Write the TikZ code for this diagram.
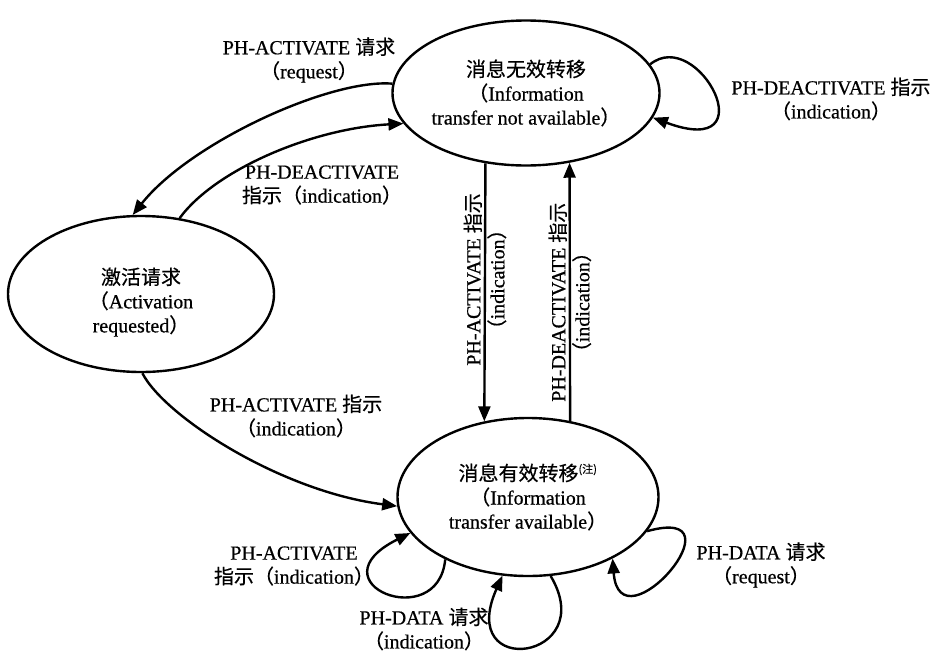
\documentclass[tikz,border=0pt]{standalone}
\usepackage{fontspec}
\setmainfont{Liberation Serif}[FakeBold=0.6]
\newfontfamily\cjk{Noto Sans CJK SC}[FakeBold=0.4]
\usetikzlibrary{arrows.meta}
\usetikzlibrary{shapes.geometric}
\newcommand{\zh}[1]{{\cjk #1}}
\newcommand{\lp}{\zh{（}}
\newcommand{\rp}{\zh{）}}
\newcommand{\paren}[1]{\lp#1\rp}
\newcommand{\noteMark}{\textsuperscript{\fontsize{11}{11}\selectfont\zh{(注)}}}

\begin{document}
\begin{tikzpicture}[%%
  x=1pt,y=1pt,%%
  every node/.style={font=\fontsize{20}{24}\selectfont},%%
  stateStyle/.style={draw,ellipse,line width=2.4pt,align=center,inner sep=0pt},%%
  arrowStyle/.style={line width=2.4pt,-{Triangle[length=15pt,width=12pt]}},%%
  labelStyle/.style={align=center,inner sep=1pt}
]
\useasboundingbox (0,0) rectangle (934,-654);
%%
%% The three states.
\node[stateStyle,minimum width=256pt,minimum height=145pt] (unavail) at (526,-93)
  {\zh{消息无效转移}\\\lp Information\\transfer not available\rp};
\node[stateStyle,minimum width=266pt,minimum height=156pt] (actreq) at (141,-294)
  {\rule{0pt}{33pt}\zh{激活请求}\\\lp Activation\\requested\rp};
\node[stateStyle,minimum width=261pt,minimum height=158pt] (avail) at (528,-497)
  {\zh{消息有效转移}\noteMark\\\lp Information\\transfer available\rp};
%%
%% Transitions between the states.
\draw[arrowStyle] (unavail.176) .. controls +(-63,5) and +(57,72) .. (actreq.96);
\draw[arrowStyle] (actreq.63) .. controls +(35,48) and +(-92,-5) .. (unavail.194);
\draw[arrowStyle] (actreq.271) .. controls +(22,-43) and +(-117,15) .. (avail.184);
\draw[arrowStyle] (unavail.240) -- node[pos=0.45,rotate=90,labelStyle] (actInd)
  {PH-ACTIVATE \zh{指示}\\\paren{indication}} (avail.120);
\draw[arrowStyle] (avail.61) -- node[pos=0.46,rotate=90,labelStyle] (deactInd)
  {PH-DEACTIVATE \zh{指示}\\\paren{indication}} (unavail.302);
%%
%% Self loops.
\draw[arrowStyle] (unavail.13) .. controls +(48,39) and +(116,-43) .. (unavail.349);
\draw[arrowStyle] (avail.217) .. controls +(-7,-75) and +(-100,-50) .. (avail.197);
\draw[arrowStyle] (avail.286) .. controls +(50,-84) and +(-47,-105) .. (avail.252);
\draw[arrowStyle] (avail.344) .. controls +(100,28) and +(7,-93) .. (avail.324);
%%
%% Labels of the transitions.
\node[labelStyle] (reqLabel) at (309,-60) {PH-ACTIVATE \zh{请求}\\\paren{request}};
\node[labelStyle] (deactLabel) at (322,-185) {PH-DEACTIVATE\\\zh{指示}\paren{indication}};
\node[labelStyle] (loopTop) at (831,-99) {PH-DEACTIVATE \zh{指示}\\\paren{indication}};
\node[labelStyle] (actLabel) at (296,-416) {PH-ACTIVATE \zh{指示}\\\paren{indication}};
\node[labelStyle] (loopLeft) at (294,-566) {PH-ACTIVATE\\\zh{指示}\paren{indication}};
\node[labelStyle] (loopMid) at (424,-629) {PH-DATA \zh{请求}\\\paren{indication}};
\node[labelStyle] (loopRight) at (761,-565) {PH-DATA \zh{请求}\\\paren{request}};
\end{tikzpicture}
\end{document}
